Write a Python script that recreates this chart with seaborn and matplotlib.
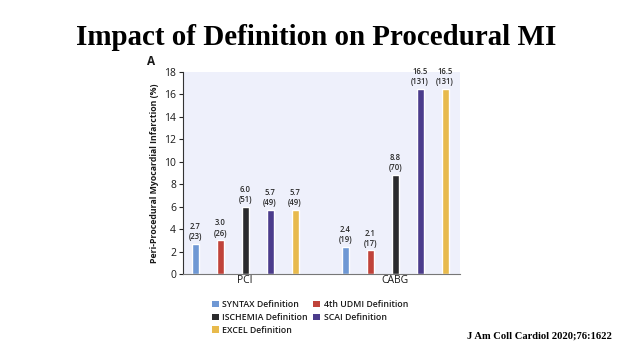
import matplotlib
matplotlib.use("Agg")
import matplotlib.pyplot as plt
import seaborn as sns
import pandas as pd
from matplotlib.patches import Patch

procedures = ["PCI", "CABG"]
definitions = ["SYNTAX Definition", "4th UDMI Definition", "ISCHEMIA Definition",
               "SCAI Definition", "EXCEL Definition"]
pci_values = [2.7, 3.0, 6.0, 5.7, 5.7]
pci_counts = [23, 26, 51, 49, 49]
cabg_values = [2.4, 2.1, 8.8, 16.5, 16.5]
cabg_counts = [19, 17, 70, 131, 131]
yticks = [0, 2, 4, 6, 8, 10, 12, 14, 16, 18]

colors = ["#6f98d4", "#c0433a", "#2b2b2d", "#4b3c8c", "#e8ba4c"]

rows = []
for d, v, c in zip(definitions, pci_values, pci_counts):
    rows.append({"Procedure": "PCI", "Definition": d, "Value": v, "Count": c})
for d, v, c in zip(definitions, cabg_values, cabg_counts):
    rows.append({"Procedure": "CABG", "Definition": d, "Value": v, "Count": c})
df = pd.DataFrame(rows)

sns.set_style("white")
plt.rcParams["font.family"] = ["Open Sans", "DejaVu Sans"]

fig = plt.figure(figsize=(6.32, 3.54), dpi=100)
ax = fig.add_axes([0.2896, 0.226, 0.4384, 0.571])
ax.set_facecolor("#eef0fb")

sns.barplot(data=df, x="Procedure", y="Value", hue="Definition",
            order=procedures, hue_order=definitions, palette=colors,
            width=0.833, gap=0.72, ax=ax, legend=False, saturation=1)

for cont, d in zip(ax.containers, definitions):
    labels = []
    for proc in procedures:
        r = df[(df.Procedure == proc) & (df.Definition == d)].iloc[0]
        labels.append(f"{r.Value:.1f}\n({r.Count})")
    ax.bar_label(cont, labels=labels, padding=2, fontsize=5.5, fontweight="semibold",
                 color="#2a2a2a", linespacing=1.15)

ax.set_xlim(-0.413, 1.433)
ax.set_ylim(0, 18)
ax.set_yticks(yticks)
ax.set_xlabel("")
ax.set_ylabel("Peri-Procedural Myocardial Infarction (%)", fontsize=6.3,
              fontweight="bold", labelpad=4, color="#1a1a1a")
ax.tick_params(axis="y", labelsize=7.5, length=3, width=0.8, pad=2, left=True,
               labelcolor="#1a1a1a")
ax.tick_params(axis="x", labelsize=7.5, length=0, pad=1, labelcolor="#1a1a1a")
for s in ["top", "right"]:
    ax.spines[s].set_visible(False)
ax.spines["left"].set_color("#333333")
ax.spines["left"].set_linewidth(0.8)
ax.spines["bottom"].set_color("#777777")
ax.spines["bottom"].set_linewidth(0.8)

fig.text(0.5, 0.895, "Impact of Definition on Procedural MI", ha="center",
         va="center", fontsize=20.9, fontweight="bold", family="Liberation Serif",
         color="black")
fig.text(0.233, 0.825, "A", ha="left", va="center", fontsize=8.5, fontweight="bold",
         color="#1a1a1a")

legend_order = [0, 2, 4, 1, 3]
handles = [Patch(facecolor=colors[i], edgecolor="none") for i in legend_order]
labels = [definitions[i] for i in legend_order]
leg = fig.legend(handles, labels, loc="upper left", bbox_to_anchor=(0.328, 0.165),
                 ncol=2, frameon=False, fontsize=6.3, handlelength=0.8, handleheight=0.8,
                 handletextpad=0.4, columnspacing=0.6, labelspacing=0.45, borderpad=0)
for t in leg.get_texts():
    t.set_fontweight("semibold")
    t.set_color("#1a1a1a")

fig.text(0.968, 0.05, "J Am Coll Cardiol 2020;76:1622", ha="right", va="center",
         fontsize=7.6, fontweight="bold", family="Liberation Serif", color="black")

fig.savefig("out.png", dpi=100)
